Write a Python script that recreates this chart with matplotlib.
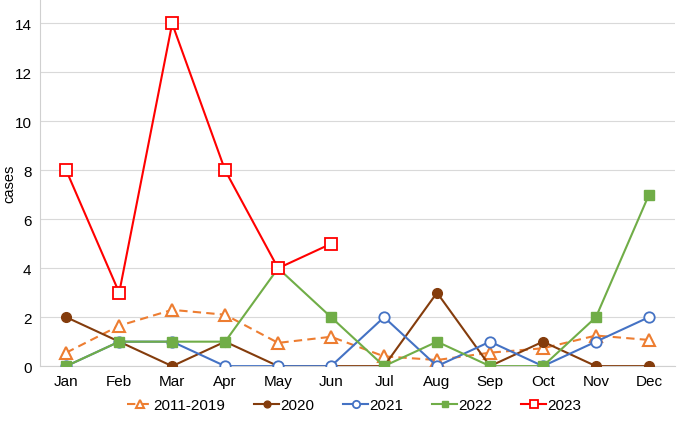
import matplotlib.pyplot as plt
import numpy as np

plt.rcParams['font.family'] = ['Liberation Sans', 'DejaVu Sans']

months = ['Jan', 'Feb', 'Mar', 'Apr', 'May', 'Jun', 'Jul', 'Aug', 'Sep', 'Oct', 'Nov', 'Dec']
avg_2011_2019 = [0.55, 1.65, 2.3, 2.1, 0.95, 1.2, 0.4, 0.25, 0.55, 0.73, 1.25, 1.07]
y2020 = [2, 1, 0, 1, 0, 0, 0, 3, 0, 1, 0, 0]
y2021 = [0, 1, 1, 0, 0, 0, 2, 0, 1, 0, 1, 2]
y2022 = [0, 1, 1, 1, 4, 2, 0, 1, 0, 0, 2, 7]
y2023 = [8, 3, 14, 8, 4, 5]

fig = plt.figure(figsize=(6.85, 4.35), dpi=100)
ax = fig.add_axes([0.058, 0.156, 0.928, 0.844])

x = np.arange(len(months))

ax.plot(x, avg_2011_2019, color='#ED7D31', lw=1.5, ls=(0, (4, 2.5)), marker='^', ms=8,
        mfc='white', mec='#ED7D31', mew=1.5, label='2011-2019', zorder=3)
ax.plot(x, y2020, color='#843C0C', lw=1.5, marker='o', ms=7,
        mfc='#843C0C', mec='#843C0C', label='2020', zorder=3)
ax.plot(x, y2021, color='#4472C4', lw=1.5, marker='o', ms=7.5,
        mfc='white', mec='#4472C4', mew=1.3, label='2021', zorder=3)
ax.plot(x, y2022, color='#70AD47', lw=1.5, marker='s', ms=7,
        mfc='#70AD47', mec='#70AD47', label='2022', zorder=4)
ax.plot(x[:len(y2023)], y2023, color='#FF0000', lw=1.5, marker='s', ms=8,
        mfc='white', mec='#FF0000', mew=1.3, label='2023', zorder=5)

ax.set_xlim(-0.5, len(months) - 0.5)
ax.set_ylim(0, 15)
ax.set_yticks(range(0, 15, 2))
ax.set_xticks(x)
ax.set_xticklabels(months)
ax.tick_params(axis='both', length=0, labelsize=11, colors='black', pad=6)
ax.set_ylabel('cases', fontsize=10.5, va='center')
ax.yaxis.set_label_coords(-0.047, 0.5)

ax.grid(axis='y', color='#D9D9D9', lw=0.8)
ax.set_axisbelow(True)
for side in ['top', 'right']:
    ax.spines[side].set_visible(False)
ax.spines['left'].set_color('#D0D0D0')
ax.spines['bottom'].set_color('#D0D0D0')

ax.legend(loc='upper center', bbox_to_anchor=(0.495, -0.05), ncol=5, frameon=False,
          fontsize=11, handlelength=1.6, columnspacing=1.9, handletextpad=0.1,
          markerscale=0.7)

plt.savefig('out.png', dpi=100, facecolor='white')
